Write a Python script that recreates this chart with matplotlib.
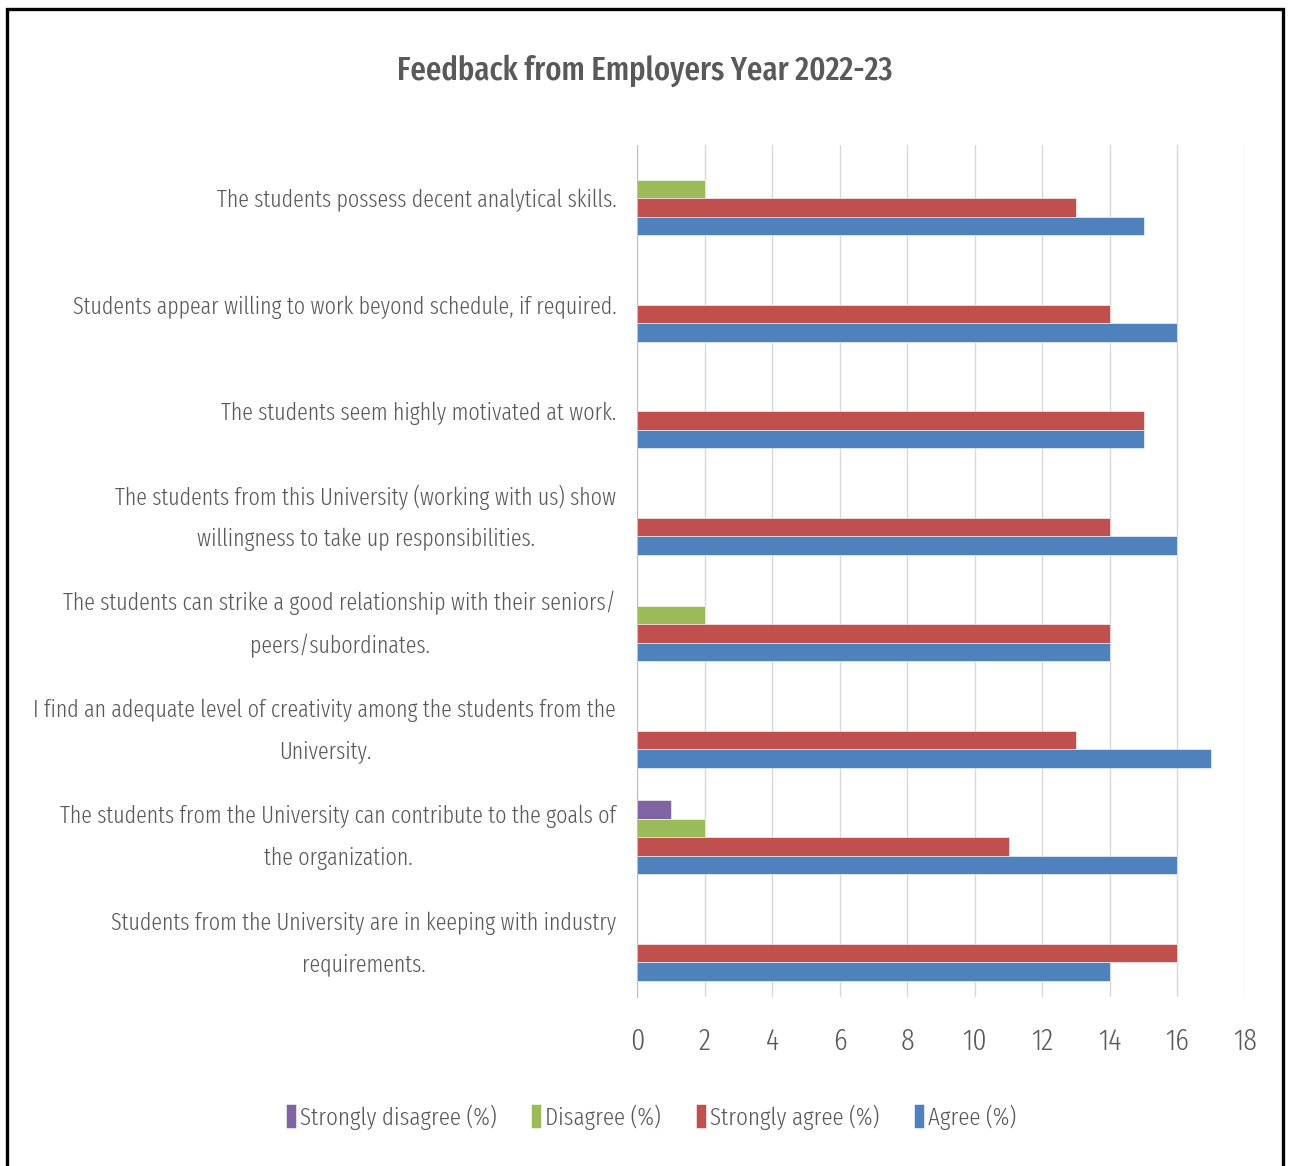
import numpy as np
import matplotlib
matplotlib.use("Agg")
import matplotlib.pyplot as plt
from matplotlib.patches import Rectangle

plt.rcParams['font.family'] = ['Fira Sans Extra Condensed', 'Liberation Sans Narrow', 'DejaVu Sans']

# data, top to bottom
questions = [
    "The students possess decent analytical skills.",
    "Students appear willing to work beyond schedule, if required.",
    "The students seem highly motivated at work.",
    "The students from this University (working with us) show\nwillingness to take up responsibilities.",
    "The students can strike a good relationship with their seniors/\npeers/subordinates.",
    "I find an adequate level of creativity among the students from the\nUniversity.",
    "The students from the University can contribute to the goals of\nthe organization.",
    "Students from the University are in keeping with industry\nrequirements.",
]
strongly_disagree = [0, 0, 0, 0, 0, 0, 1, 0]
disagree = [2, 0, 0, 0, 2, 0, 2, 0]
strongly_agree = [13, 14, 15, 14, 14, 13, 11, 16]
agree = [15, 16, 15, 16, 14, 17, 16, 14]

series_names = ["Strongly disagree (%)", "Disagree (%)", "Strongly agree (%)", "Agree (%)"]
series_vals = [strongly_disagree, disagree, strongly_agree, agree]
colors = ["#8064A2", "#9BBB59", "#C0504D", "#4F81BD"]
xticks = [0, 2, 4, 6, 8, 10, 12, 14, 16, 18]

txt = "#595959"

fig = plt.figure(figsize=(12.89, 11.66), dpi=100)
ax = fig.add_axes([0.4942, 0.1449, 0.4717, 0.7307])

y = np.arange(len(questions))
h = 0.174
offsets = [-1.5 * h, -0.5 * h, 0.5 * h, 1.5 * h]
for name, vals, col, off in zip(series_names, series_vals, colors, offsets):
    ax.barh(y + off, vals, height=h, color=col, edgecolor="white",
            linewidth=0.4, label=name, zorder=3)

ax.set_ylim(len(questions) - 0.5, -0.5)
ax.set_xlim(0, 18)
ax.set_xticks(xticks)
ax.set_xticklabels([str(t) for t in xticks], fontweight=300)
ax.set_yticks(y)
ax.set_yticklabels(questions, multialignment="center", linespacing=2.0,
                   fontweight=300)
# two-line labels: centre the whole block on the category
for lbl in ax.get_yticklabels():
    if "\n" in lbl.get_text():
        lbl.set_verticalalignment("center")

ax.grid(axis="x", color="#D9D9D9", linewidth=1, zorder=0)
for s in ["top", "right", "bottom"]:
    ax.spines[s].set_visible(False)
ax.spines["left"].set_color("#BFBFBF")
ax.spines["left"].set_zorder(4)
ax.tick_params(axis="x", length=0, pad=22, labelsize=22, colors=txt)
ax.tick_params(axis="y", length=0, pad=15, labelsize=17.2, colors=txt)

fig.text(0.5, 0.939, "Feedback from Employers Year 2022-23", ha="center",
         va="center", fontsize=24, color=txt, fontweight=500)

fig.legend(loc="center", bbox_to_anchor=(0.505, 0.042), ncol=4, frameon=False,
           prop={"size": 18, "weight": 300}, labelcolor=txt,
           handlelength=0.4, handleheight=1.1,
           handletextpad=0.15, columnspacing=1.4)

# outer border
fig.patches.append(Rectangle((0.0054, -0.02), 0.9899, 1.0123,
                             transform=fig.transFigure, fill=False,
                             edgecolor="black", linewidth=2.4))

fig.savefig("out.png", dpi=100)
